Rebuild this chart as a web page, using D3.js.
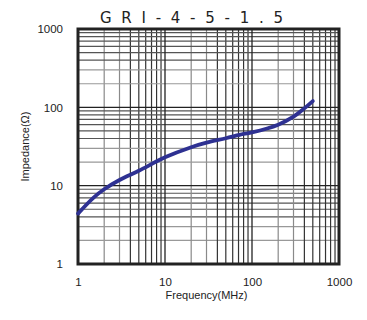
<!DOCTYPE html>
<html><head><meta charset="utf-8">
<script src="https://cdn.jsdelivr.net/npm/d3@7"></script>
<style>body{margin:0;background:#fff}svg{display:block}</style>
</head><body>
<script>
const title = "GRI-4-5-1.5";
const freqs = [1, 1.5, 2, 3, 5, 10, 20, 30, 50, 80, 100, 200, 300, 400, 500];
const impedance = [4.4, 7.0, 9.0, 11.8, 15.5, 23, 31, 35.4, 40.3, 45.7, 47.8, 60, 76, 97, 120];
const xTicks = [1, 10, 100, 1000];
const yTicks = [1, 10, 100, 1000];
const xLabel = "Frequency(MHz)";
const yLabel = "Impedance(Ω)";

const W = 367, H = 320;
const m = {l: 78, r: 28, t: 29, b: 56};
const svg = d3.select("body").append("svg").attr("width", W).attr("height", H);
const x = d3.scaleLog().domain([1, 1000]).range([m.l, W - m.r]);
const y = d3.scaleLog().domain([1, 1000]).range([H - m.b, m.t]);

const font = "Arial, 'Liberation Sans', sans-serif";
// grid
const minors = [];
for (let d = 1; d < 1000; d *= 10) for (let k = 2; k <= 9; k++) minors.push(d * k);
const shade = k => (k === 2 || k === 3) ? "#8a8a8a" : "#333";
const g = svg.append("g");
minors.forEach(v => {
  const k = Math.round(v / Math.pow(10, Math.floor(Math.log10(v) + 1e-9)));
  g.append("line").attr("x1", x(v)).attr("x2", x(v)).attr("y1", y(1)).attr("y2", y(1000))
    .attr("stroke", shade(k)).attr("stroke-width", 1.2);
  g.append("line").attr("y1", y(v)).attr("y2", y(v)).attr("x1", x(1)).attr("x2", x(1000))
    .attr("stroke", shade(k) === "#333" ? "#555" : "#999").attr("stroke-width", 1.2);
});
[10, 100].forEach(v => {
  g.append("line").attr("x1", x(v)).attr("x2", x(v)).attr("y1", y(1)).attr("y2", y(1000)).attr("stroke", "#222").attr("stroke-width", 1.3);
  g.append("line").attr("y1", y(v)).attr("y2", y(v)).attr("x1", x(1)).attr("x2", x(1000)).attr("stroke", "#222").attr("stroke-width", 1.3);
});
svg.append("rect").attr("x", x(1)).attr("y", y(1000)).attr("width", x(1000) - x(1)).attr("height", y(1) - y(1000))
  .attr("fill", "none").attr("stroke", "#222").attr("stroke-width", 3);

// curve
const line = d3.line().x((d, i) => x(freqs[i])).y(d => y(d)).curve(d3.curveCatmullRom.alpha(0.5));
svg.append("path").datum(impedance).attr("d", line).attr("fill", "none")
  .attr("stroke", "#2e3192").attr("stroke-width", 3.8).attr("stroke-linecap", "round");

// axes labels
const fmt = d => String(d);
const xa = d3.axisBottom(x).tickValues(xTicks).tickFormat(fmt).tickSize(0).tickPadding(14);
const xg = svg.append("g").attr("transform", `translate(0,${y(1)})`).call(xa);
xg.select(".domain").remove();
xg.selectAll("text").attr("font-family", font).attr("font-size", 11.5).attr("fill", "#222");
const ya = d3.axisLeft(y).tickValues(yTicks).tickFormat(fmt).tickSize(0).tickPadding(15);
const yg = svg.append("g").attr("transform", `translate(${x(1)},0)`).call(ya);
yg.select(".domain").remove();
yg.selectAll("text").attr("font-family", font).attr("font-size", 11.5).attr("fill", "#222");

svg.append("text").attr("x", (x(1) + x(1000)) / 2 - 2).attr("y", 299).attr("text-anchor", "middle")
  .attr("font-family", font).attr("font-size", 11).attr("fill", "#222").text(xLabel);
svg.append("text").attr("transform", `translate(29,${(y(1) + y(1000)) / 2}) rotate(-90)`).attr("text-anchor", "middle")
  .attr("font-family", font).attr("font-size", 11).attr("fill", "#222").text(yLabel);
svg.append("text").attr("x", 100).attr("y", 23).attr("textLength", 183).attr("lengthAdjust", "spacing")
  .attr("font-family", "'DejaVu Sans', sans-serif").attr("font-size", 15).attr("fill", "#222").text(title);
</script>
</body></html>
